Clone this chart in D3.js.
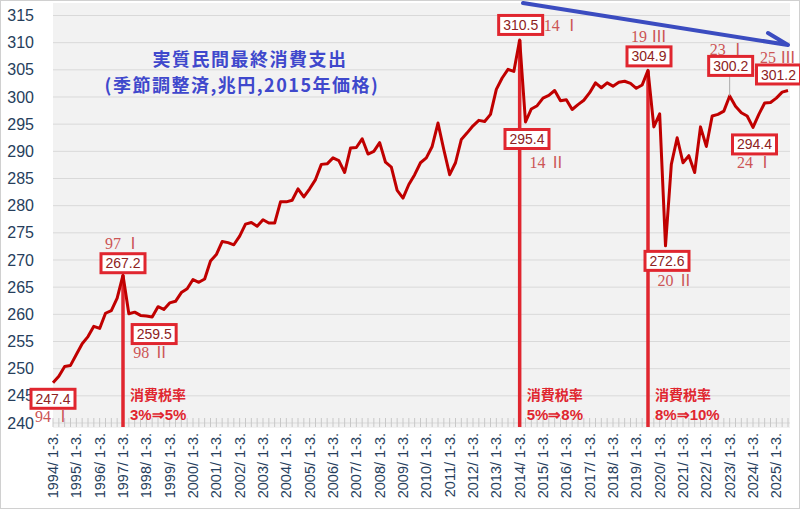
<!DOCTYPE html>
<meta charset="utf-8">
<title>実質民間最終消費支出</title>
<style>
body { margin: 0; background: #fff; }
svg { display: block; font-family: Arial, "Liberation Sans", sans-serif; }
.grid line { stroke: #d9d9d9; stroke-width: 1px; }
.ylab text { fill: #263e5c; font-size: 16px; }
.xlab text { fill: #263e5c; font-size: 14.5px; }
.box rect { fill: #fff; stroke: #e0262f; stroke-width: 3px; }
.box text { fill: #8e2222; font-size: 14px; }
.sub { fill: #cc5555; font-family: "Liberation Serif", "Noto Sans CJK JP", serif; font-size: 16px; }
.tax { fill: #e0262f; font-weight: bold; }
.title { fill: #3f48cc; font-weight: bold; font-family: "Noto Sans CJK JP", sans-serif; font-size: 18px; letter-spacing: 1.5px; }
</style>
<svg width="800" height="509"></svg>
<script src="https://cdn.jsdelivr.net/npm/d3@7"></script>
<script>

var svg = d3.select("svg"),
    width = +svg.attr("width"),
    height = +svg.attr("height");

// quarters 1994 Q1 .. 2025 Q3
var years = d3.range(1994, 2026);
var quarterNames = ["1-3.", "4-6.", "7-9.", "10-12."];
var quarters = [];
years.forEach(function(y) {
  quarterNames.forEach(function(q) { quarters.push(y + "/ " + q); });
});
quarters = quarters.slice(0, 127);

// 実質民間最終消費支出 (兆円)
var consumption = [
  247.4, 248.6, 250.4, 250.6, 252.6, 254.6, 255.9, 257.8, 257.4, 260.2, 260.7, 263.0,
  267.2, 260.1, 260.4, 259.8, 259.7, 259.5, 261.4, 260.9, 262.1, 262.4, 264.0, 264.7,
  266.4, 265.9, 266.5, 269.8, 271.0, 273.4, 273.2, 272.8, 274.4, 276.6, 276.9, 276.2,
  277.4, 276.8, 276.8, 280.7, 280.7, 281.0, 283.1, 281.6, 283.1, 284.8, 287.6, 287.7,
  288.8, 288.3, 286.1, 290.6, 290.7, 292.3, 289.5, 290.0, 291.6, 288.0, 287.1, 282.8,
  281.4, 283.9, 285.7, 287.9, 288.8, 290.9, 295.2, 290.3, 285.7, 287.9, 292.2, 293.4,
  294.7, 295.7, 295.5, 296.8, 301.4, 303.5, 305.1, 304.7, 310.5, 295.4, 297.8, 298.4,
  299.8, 300.3, 301.2, 299.3, 299.5, 297.7, 298.6, 299.4, 300.8, 302.6, 301.7, 302.6,
  302.0, 302.7, 302.9, 302.5, 301.6, 302.2, 304.9, 294.5, 296.9, 272.6, 287.6, 292.5,
  287.9, 289.2, 286.1, 294.5, 290.9, 296.5, 296.8, 297.4, 300.2, 298.3, 297.1, 296.5,
  294.4, 296.8, 298.9, 299.0, 299.8, 300.9, 301.2
];

var yTicks = d3.range(240, 316, 5);

// labelled quarters
var markIdx = [0, 12, 17, 80, 81, 102, 105, 116, 120, 126];
var markSub = ["94 Ⅰ", "97 Ⅰ", "98 Ⅱ", "14 Ⅰ", "14 Ⅱ", "19 Ⅲ", "20 Ⅱ", "23 Ⅰ", "24 Ⅰ", "25 Ⅲ"];

// tax rate changes
var taxIdx = [12, 80, 102];
var taxText = ["3%⇒5%", "5%⇒8%", "8%⇒10%"];

var x = d3.scalePoint().domain(quarters).range([53, 788]);
var y = d3.scaleLinear().domain([240, 315]).range([423, 15.5]);

// frame + plot background
svg.append("rect")
    .attr("x", 0.5).attr("y", 0.5)
    .attr("width", width - 1).attr("height", height - 1)
    .attr("fill", "#fff").attr("stroke", "#d0d0d0");
svg.append("rect")
    .attr("x", 53).attr("y", 3)
    .attr("width", 737).attr("height", 425)
    .attr("fill", "#f2f2f2");

// grid
svg.append("g").attr("class", "grid")
  .selectAll("line")
  .data(yTicks)
  .enter().append("line")
    .attr("x1", 53).attr("x2", 790)
    .attr("y1", function(d) { return y(d); })
    .attr("y2", function(d) { return y(d); });

// category ticks
svg.append("g")
  .selectAll("line")
  .data(quarters)
  .enter().append("line")
    .attr("x1", function(d) { return x(d); })
    .attr("x2", function(d) { return x(d); })
    .attr("y1", 418).attr("y2", 427)
    .attr("stroke", "#c8c8c8");

// y labels
svg.append("g").attr("class", "ylab")
  .selectAll("text")
  .data(yTicks)
  .enter().append("text")
    .attr("x", 34)
    .attr("y", function(d) { return y(d); })
    .attr("dy", "0.35em")
    .attr("text-anchor", "end")
    .text(function(d) { return d; });

// x labels, one per year
svg.append("g").attr("class", "xlab")
  .selectAll("text")
  .data(quarters.filter(function(d, i) { return i % 4 == 0; }))
  .enter().append("text")
    .attr("transform", function(d) { return "translate(" + (x(d) + 5) + ",433) rotate(-90)"; })
    .attr("text-anchor", "end")
    .text(function(d) { return d; });

// tax lines
svg.append("g")
  .selectAll("line")
  .data(taxIdx)
  .enter().append("line")
    .attr("x1", function(i) { return x(quarters[i]); })
    .attr("x2", function(i) { return x(quarters[i]); })
    .attr("y1", function(i) { return y(consumption[i]); })
    .attr("y2", 427)
    .attr("stroke", "#e0262f")
    .attr("stroke-width", 3.5);

var tax = svg.append("g")
  .selectAll("g")
  .data(taxIdx)
  .enter().append("g")
    .attr("transform", function(i) { return "translate(" + (x(quarters[i]) + 7) + ",0)"; });
tax.append("text").attr("class", "tax")
    .attr("y", 400).attr("font-size", 14)
    .attr("font-family", "'Noto Sans CJK JP', sans-serif")
    .text("消費税率");
tax.append("text").attr("class", "tax")
    .attr("y", 420).attr("font-size", 15)
    .text(function(d, k) { return taxText[k]; });

// the series
var line = d3.line()
    .x(function(d, i) { return x(quarters[i]); })
    .y(function(d) { return y(d); });

svg.append("path")
    .datum(consumption)
    .attr("d", line)
    .attr("fill", "none")
    .attr("stroke", "#c00000")
    .attr("stroke-width", 3)
    .attr("stroke-linejoin", "round");

// leader for 23 I
svg.append("line")
    .attr("x1", x(quarters[116])).attr("x2", x(quarters[116]))
    .attr("y1", 76).attr("y2", y(consumption[116]))
    .attr("stroke", "#aaaaaa");

// box and sub label offsets from the point
var boxOff = [[0, 16], [0, -12], [2, 17], [1, -15], [1.5, 17], [1, -14], [1.5, 15], [1, -30], [1.5, 17], [-9.5, -16]];
var subOff = [[0, 34], [0, -32], [-1, 35.5], [42, -15], [22, 40], [1, -34], [10, 35], [-2, -47], [2, 35], [-10, -33.5]];

var box = svg.append("g")
  .selectAll("g")
  .data(markIdx)
  .enter().append("g")
    .attr("class", "box")
    .attr("transform", function(i, k) {
      return "translate(" + (x(quarters[i]) + boxOff[k][0]) + "," + (y(consumption[i]) + boxOff[k][1]) + ")";
    });
box.append("rect")
    .attr("x", -22).attr("y", -9.5)
    .attr("width", 44).attr("height", 19);
box.append("text")
    .attr("text-anchor", "middle")
    .attr("dy", "0.36em")
    .text(function(i) { return consumption[i].toFixed(1); });

svg.append("g")
  .selectAll("text")
  .data(markIdx)
  .enter().append("text")
    .attr("class", "sub")
    .attr("text-anchor", "middle")
    .attr("dy", "0.35em")
    .attr("x", function(i, k) { return x(quarters[i]) + subOff[k][0]; })
    .attr("y", function(i, k) { return y(consumption[i]) + subOff[k][1]; })
    .text(function(d, k) { return markSub[k]; });

// title
svg.append("text").attr("class", "title")
    .attr("x", 250).attr("y", 66)
    .attr("text-anchor", "middle")
    .text("実質民間最終消費支出");
svg.append("text").attr("class", "title")
    .attr("x", 242).attr("y", 92)
    .attr("text-anchor", "middle")
    .text("(季節調整済,兆円,2015年価格)");

// trend arrow
svg.append("path")
    .attr("d", "M523,3 L788,45 M768,33 L788,45")
    .attr("fill", "none")
    .attr("stroke", "#3b4cc0")
    .attr("stroke-width", 4)
    .attr("stroke-linecap", "round");

</script>
